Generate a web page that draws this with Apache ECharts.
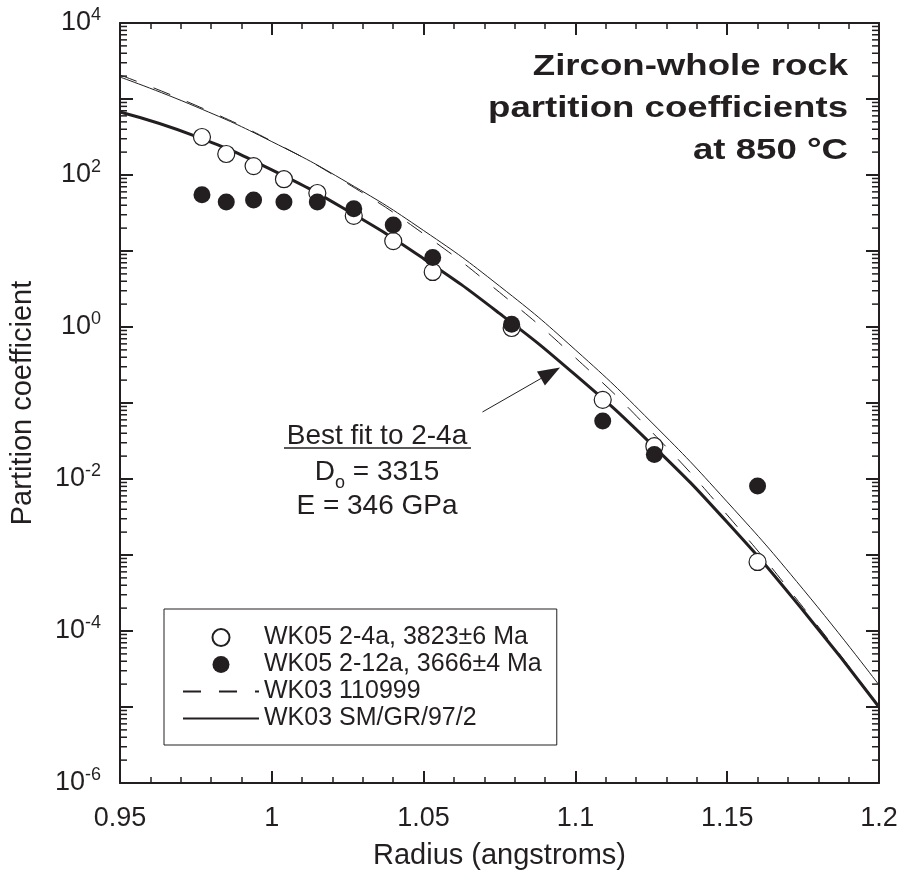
<!DOCTYPE html>
<html>
<head>
<meta charset="utf-8">
<script src="https://cdn.jsdelivr.net/npm/echarts@6/dist/echarts.min.js"></script>
<style>html,body{margin:0;padding:0;background:#fff}#c{width:905px;height:875px}</style>
</head>
<body>
<div id="c"></div>
<script>
// ---- data ----
const radius = [0.977, 0.985, 0.994, 1.004, 1.015, 1.027, 1.040, 1.053, 1.079, 1.109, 1.126, 1.160];
const wk05_24a = [316, 189, 131, 88, 58, 29, 13.5, 5.3, 0.97, 0.11, 0.027, 0.00081];
const wk05_212a = [55, 44, 47, 44, 44, 36, 22, 8.2, 1.09, 0.058, 0.021, 0.0081];

const curveX = [0.95, 0.975, 1.0, 1.025, 1.05, 1.075, 1.1, 1.125, 1.15, 1.175, 1.2];
const bestFit = [675, 323, 117, 33.8, 7.93, 1.51, 0.234, 0.0288, 0.00269, 0.000186, 0.00001];
const wk03_110999 = [2070, 824, 279, 76.9, 16.8, 2.86, 0.394, 0.0423, 0.00336, 0.000205, 0.0000102];
const wk03_smgr = [1945, 793, 275, 79.3, 18.6, 3.46, 0.5, 0.0561, 0.005, 0.000354, 0.0000195];

const arrowFrom = [1.0694, 0.0762];
const arrowTo = [1.0918, 0.248];

const xMin = 0.95, xMax = 1.2;
const yMin = 1e-6, yMax = 1e4;

const seriesNames = ['WK05 2-4a, 3823±6 Ma', 'WK05 2-12a, 3666±4 Ma', 'WK03 110999', 'WK03 SM/GR/97/2'];

// ---- build ----
const dark = '#231f20';
const FONT = '"Liberation Sans", Arial, Helvetica, sans-serif';

const minorVals = [];
for (let e = -6; e < 4; e++) for (let m = 2; m <= 9; m++) minorVals.push(m * Math.pow(10, e));

const zip = (xs, ys) => xs.map((x, i) => [x, ys[i]]);

const chart = echarts.init(document.getElementById('c'), null, {renderer: 'canvas'});

const yLabel = {
  show: true, fontFamily: FONT, color: dark, margin: 19, interval: 0, hideOverlap: false,
  showMinLabel: true, showMaxLabel: true,
  formatter: v => {
    const e = Math.round(Math.log10(v));
    if (e % 2 !== 0) return '';
    return '{b|10}{s|' + e + '}';
  },
  rich: {
    b: {fontSize: 27, lineHeight: 34, fontFamily: FONT, color: dark},
    s: {fontSize: 18, lineHeight: 22, verticalAlign: 'top', fontFamily: FONT, color: dark}
  }
};

const xCommon = {
  type: 'value', min: xMin, max: xMax, interval: 0.05,
  axisLine: {show: true, onZero: false, lineStyle: {color: dark, width: 2}},
  axisTick: {show: true, inside: true, length: 12, lineStyle: {color: dark, width: 2}},
  minorTick: {show: true, splitNumber: 5, length: 6, lineStyle: {color: dark, width: 1.5}},
  splitLine: {show: false}, minorSplitLine: {show: false}
};
const yCommon = {
  type: 'log', logBase: 10, min: yMin, max: yMax, splitNumber: 10, interval: 1,
  axisLine: {show: true, onZero: false, lineStyle: {color: dark, width: 2}},
  axisTick: {show: true, inside: true, length: 13, interval: 0, lineStyle: {color: dark, width: 2}},
  splitLine: {show: false}
};

const hiddenSymbol = {color: 'rgba(0,0,0,0)', borderWidth: 0, opacity: 0};

const option = {
  animation: false,
  backgroundColor: '#fff',
  grid: {left: 119, right: 26, top: 23, bottom: 91, containLabel: false},
  xAxis: [
    Object.assign({}, xCommon, {
      position: 'bottom',
      axisLabel: {fontSize: 27, fontFamily: FONT, color: dark, margin: 22,
        formatter: v => String(+v.toFixed(2))},
      name: 'Radius (angstroms)', nameLocation: 'middle', nameGap: 58,
      nameTextStyle: {fontSize: 29, fontFamily: FONT, color: dark}
    }),
    Object.assign({}, xCommon, {position: 'top', axisLabel: {show: false}})
  ],
  yAxis: [
    Object.assign({}, yCommon, {
      position: 'left', axisLabel: yLabel,
      name: 'Partition coefficient', nameLocation: 'middle', nameGap: 83, nameRotate: 90,
      nameTextStyle: {fontSize: 29, fontFamily: FONT, color: dark}
    }),
    Object.assign({}, yCommon, {position: 'right', axisLabel: {show: false}})
  ],
  legend: {
    left: 164, top: 609, orient: 'vertical',
    padding: [15, 15, 13, 18],
    borderColor: dark, borderWidth: 1,
    itemWidth: 76, itemHeight: 17, itemGap: 0,
    symbolKeepAspect: true,
    textStyle: {fontSize: 25, fontFamily: FONT, color: dark, lineHeight: 27},
    data: [
      {name: seriesNames[0]},
      {name: seriesNames[1]},
      {name: seriesNames[2], itemStyle: hiddenSymbol},
      {name: seriesNames[3], itemStyle: hiddenSymbol}
    ],
    selectedMode: false
  },
  series: [
    {
      name: 'best fit', type: 'line', data: zip(curveX, bestFit), smooth: true,
      symbol: 'none', lineStyle: {color: dark, width: 3}, z: 3,
      markLine: {
        silent: true, animation: false,
        symbol: ['none', 'triangle'], symbolSize: [16, 22],
        label: {show: false},
        lineStyle: {color: dark, width: 1, type: 'solid'},
        data: [[{coord: arrowFrom}, {coord: arrowTo}]]
      }
    },
    {
      name: seriesNames[2], type: 'line', data: zip(curveX, wk03_110999), smooth: true,
      symbol: 'none', lineStyle: {color: dark, width: 1, type: [18, 18]}, itemStyle: {color: dark}, z: 2
    },
    {
      name: seriesNames[3], type: 'line', data: zip(curveX, wk03_smgr), smooth: true,
      symbol: 'none', lineStyle: {color: dark, width: 1}, itemStyle: {color: dark}, z: 2
    },
    {
      name: seriesNames[0], type: 'scatter', data: zip(radius, wk05_24a),
      symbol: 'circle', symbolSize: 17,
      itemStyle: {color: '#fff', borderColor: dark, borderWidth: 1.2, opacity: 1}, z: 4
    },
    {
      name: seriesNames[1], type: 'scatter', data: zip(radius, wk05_212a),
      symbol: 'circle', symbolSize: 17,
      itemStyle: {color: dark, opacity: 1}, z: 5
    },
    {
      name: 'minor ticks', type: 'custom', silent: true, z: 6,
      data: minorVals.map(v => [xMin, v]),
      renderItem: (params, api) => {
        const v = api.value(1);
        const pL = api.coord([xMin, v]);
        const pR = api.coord([xMax, v]);
        return {type: 'group', children: [
          {type: 'line', shape: {x1: pL[0], y1: pL[1], x2: pL[0] + 7, y2: pL[1]}, style: {stroke: dark, lineWidth: 1.5}},
          {type: 'line', shape: {x1: pR[0], y1: pR[1], x2: pR[0] - 7, y2: pR[1]}, style: {stroke: dark, lineWidth: 1.5}}
        ]};
      }
    }
  ],
  graphic: [
    {type: 'text', x: 848, y: 46, z: 10, scaleX: 1.22, scaleY: 1, style: {
      text: 'Zircon-whole rock\npartition coefficients\nat 850 °C',
      font: 'bold 30px ' + FONT, fill: dark, align: 'right', verticalAlign: 'top', lineHeight: 42}},
    {type: 'text', x: 377, y: 436, z: 10, style: {
      text: 'Best fit to 2-4a', font: '28px ' + FONT, fill: dark, align: 'center', verticalAlign: 'middle'}},
    {type: 'line', z: 10, shape: {x1: 284, y1: 448, x2: 471, y2: 448}, style: {stroke: dark, lineWidth: 1.5}},
    {type: 'text', x: 377, y: 472, z: 10, style: {
      text: '{m|D}{s|o}{m| = 3315}', align: 'center', verticalAlign: 'middle',
      rich: {
        m: {fontSize: 28, lineHeight: 40, fontFamily: FONT, fill: dark, color: dark},
        s: {fontSize: 18, lineHeight: 18, verticalAlign: 'bottom', fontFamily: FONT, fill: dark, color: dark}
      }}},
    {type: 'text', x: 377, y: 506, z: 10, style: {
      text: 'E = 346 GPa', font: '28px ' + FONT, fill: dark, align: 'center', verticalAlign: 'middle'}}
  ]
};
chart.setOption(option);
</script>
</body>
</html>
